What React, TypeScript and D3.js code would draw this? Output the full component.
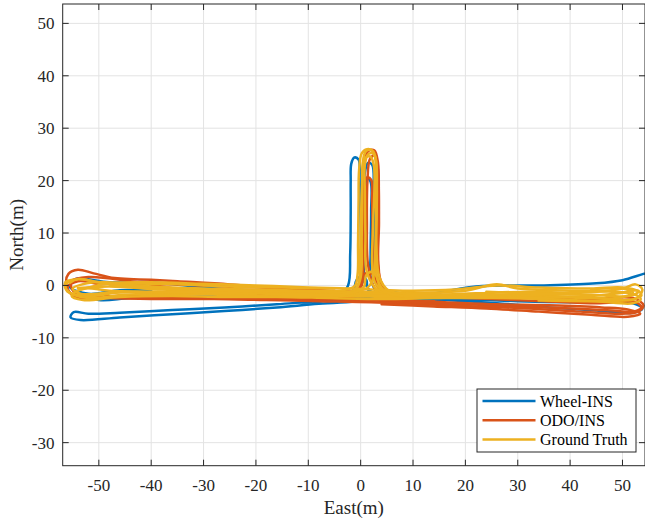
import React from "react";
import * as d3 from "d3";

type P = [number, number];

// ---------- axis ticks ----------
const xTicks = [-50, -40, -30, -20, -10, 0, 10, 20, 30, 40, 50];
const yTicks = [-30, -20, -10, 0, 10, 20, 30, 40, 50];
const xDomain: [number, number] = [-56.9, 54.3];
const yDomain: [number, number] = [-34.4, 53.7];

// ---------- Wheel-INS (blue) ----------
const wheelLap: P[] = [
  [2, -2.6], [-8, -3.0], [-16, -3.6], [-26, -4.2], [-36, -4.7], [-46, -5.2], [-52, -5.4],
  [-54.8, -5.1], [-55.4, -6.1], [-53.5, -6.6], [-46, -6.1], [-36, -5.5], [-26, -4.9],
  [-16, -4.2], [-8, -3.5], [0, -3.0], [10, -2.2], [22, -0.2], [35, 0.0], [45, 0.4],
  [50, 1.0], [54, 2.2], [57, 3.0],
];
const wheelMid: P[] = [
  [-40, -1.0], [-46, -0.9], [-52, -1.6], [-55.6, -0.2], [-54.5, 1.2], [-48, 0.6],
  [-40, 0.6], [-30, -0.4], [-20, -1.0], [-10, -1.4], [0, -1.8], [10, -2.2], [20, -2.6],
  [30, -3.0], [40, -3.2], [48, -3.2], [52, -3.4], [53.8, -4.4], [52, -5.2], [45, -4.8],
  [36, -4.2], [26, -3.4], [16, -2.8], [6, -2.4], [-4, -2.2], [-14, -2.0], [-24, -2.0],
  [-34, -2.2], [-44, -2.4], [-50, -2.8], [-54, -1.4],
];
const wheelV1: P[] = [
  [-12, -2.2], [-4, -1.8], [-2.4, 0], [-2.0, 6], [-1.9, 14], [-1.9, 20], [-1.8, 23.2],
  [-1.2, 24.4], [-0.4, 24.0], [-0.2, 20], [0.0, 12], [0.2, 5], [0.8, 0.5], [2.6, -1.6], [10, -2.4],
];
const wheelV2: P[] = [
  [-6, -1.6], [-0.6, -1.0], [0.4, 1], [0.6, 8], [0.7, 16], [0.8, 21.5], [1.4, 23.4],
  [2.2, 23.0], [2.5, 18], [2.6, 10], [2.4, 3], [3.2, 0], [8, -1.6],
];
const wheelV3: P[] = [
  [-4, -2.0], [-0.2, -0.5], [0.6, 4], [0.7, 12], [0.8, 19], [1.3, 20.4], [1.9, 19.8],
  [2.0, 14], [1.9, 6], [2.0, 1], [3.6, -1.8], [10, -2.6],
];
const wheelArc: P[] = [
  [-8, -2.6], [-1.6, -1.2], [-0.8, 1.0], [0.2, 1.8], [1.1, 1.0], [1.4, -0.8], [4, -2.4], [12, -2.8],
];

// ---------- ODO/INS (orange) ----------
const odoLap1: P[] = [
  [-40, 1.1], [-47, 1.4], [-51, 2.3], [-54, 3.0], [-55.8, 2.2], [-56.2, 0.2], [-55, -1.8],
  [-50, -2.3], [-40, -2.4], [-30, -2.4], [-20, -2.4], [-10, -2.6], [0, -2.8], [10, -3.2],
  [20, -3.6], [30, -4.0], [40, -4.4], [48, -4.8], [52, -5.0], [53.6, -4.2], [52.5, -3.2],
  [45, -3.4], [35, -3.0], [25, -2.6], [15, -2.2], [5, -1.8], [-5, -1.2], [-15, -0.6],
  [-25, 0.2], [-35, 0.8], [-40, 1.1],
];
const odoLap2: P[] = [
  [-50, 0.2], [-54, 0.8], [-56, -0.4], [-54.5, -2.2], [-48, -2.4], [-38, -2.6], [-28, -2.6],
  [-18, -2.8], [-8, -3.0], [2, -3.2], [12, -3.6], [22, -4.0], [32, -4.4], [42, -5.0],
  [50, -5.4], [53, -5.0], [54, -3.8], [52, -2.4], [44, -2.6], [34, -2.2], [24, -2.0],
  [14, -1.8], [4, -1.4], [-6, -1.0], [-16, -0.5], [-26, -0.2], [-36, 0.2], [-46, 0.4], [-50, 0.2],
];
const odoLap3: P[] = [
  [-30, -1.6], [-40, -1.8], [-50, -2.0], [-54.8, -1.2], [-55.2, 0.8], [-52, 1.6],
  [-44, 0.8], [-34, -0.8], [-24, -1.6], [-14, -2.0], [-4, -2.4], [6, -2.8], [16, -3.2],
  [26, -3.6], [36, -3.8], [46, -4.2], [51, -4.6], [53.4, -5.4], [51, -6.0], [44, -5.6],
  [34, -5.0], [24, -4.4], [14, -4.0], [4, -3.6],
];
const odoV1: P[] = [
  [-15, -2.0], [-3, -2.2], [-0.6, -0.6], [0.1, 2], [0.3, 10], [0.5, 18], [0.7, 23],
  [1.4, 25.6], [2.6, 25.8], [3.3, 23.5], [3.4, 14], [3.2, 5], [3.8, 1], [6, -2.4], [18, -3.4],
];
const odoV2: P[] = [
  [-10, -2.6], [-1.2, -2.0], [0.2, 0], [0.5, 6], [0.6, 14], [0.6, 19.4], [1.2, 20.6],
  [2.0, 20.2], [2.2, 16], [2.3, 8], [2.4, 3], [3.4, -0.5], [8, -2.6], [16, -3.2],
];
const odoV3: P[] = [
  [14, -3.0], [5, -2.6], [2.6, -0.4], [1.4, 4], [1.2, 12], [1.3, 20], [1.8, 24.2],
  [2.7, 24.8], [3.3, 22], [3.5, 12], [3.4, 4], [4.6, -1.6], [12, -3.2],
];
const odoArc: P[] = [
  [10, -3.0], [4.0, -1.4], [2.8, 1.6], [1.6, 2.5], [0.6, 2.0], [0.0, 0], [-4, -2.2], [-12, -2.6],
];

// ---------- Ground Truth (yellow) ----------
const gtLap1: P[] = [
  [-55.5, 0.5], [-54, 1.2], [-50, 0.6], [-40, -0.2], [-30, -0.6], [-20, -0.8], [-10, -1.0],
  [0, -1.2], [10, -1.4], [20, -1.0], [26, 0.2], [30, -0.6], [40, -1.0], [48, -1.2],
  [52, -1.6], [53.5, -2.6], [52, -3.4], [45, -3.0], [35, -2.6], [25, -2.4], [15, -2.4],
  [5, -2.2], [-5, -2.0], [-15, -2.0], [-25, -1.8], [-35, -1.6], [-45, -1.8], [-52, -2.4],
  [-55.5, -1.4], [-56.4, 0], [-55.5, 0.8],
];
const gtLap2: P[] = [
  [-46, -1.2], [-52, -2.0], [-56, -1.2], [-56.4, 0.6], [-54, 1.2], [-50, 0.6], [-44, -0.2],
  [-34, -0.6], [-24, -1.0], [-14, -1.2], [-4, -1.4], [6, -1.8], [16, -1.8], [26, -2.0],
  [36, -2.0], [46, -2.4], [52.5, -2.6], [53.8, -0.8], [52.5, 0.2], [50, -0.6], [42, -1.4],
  [32, -1.2], [22, -1.5], [12, -1.8], [2, -1.6], [-8, -1.6], [-18, -1.4], [-28, -1.2],
  [-38, -0.8], [-48, -0.2], [-54, -0.5],
];
const gtLap3: P[] = [
  [-20, -1.6], [-30, -1.4], [-40, -1.2], [-48, -1.0], [-53, -0.6], [-55.2, -2.0],
  [-53, -2.8], [-46, -2.2], [-36, -2.0], [-26, -2.2], [-16, -2.2], [-6, -2.4], [4, -2.6],
  [14, -2.4], [24, -2.2], [34, -2.4], [44, -2.0], [50, -1.4], [53, -1.0], [53.6, -2.0],
  [51, -2.8], [44, -3.0], [34, -2.9],
];
const gtLap4: P[] = [
  [-5, -0.6], [-15, -0.4], [-25, -0.2], [-35, 0.2], [-45, 0.4], [-51, 0.6], [-55, -0.6],
  [-53.5, -1.6], [-48, -1.4], [-38, -1.2], [-28, -1.4], [-18, -1.6], [-8, -1.8], [2, -2.0],
  [12, -2.0], [22, -1.8], [32, -1.8], [42, -2.4], [49, -2.4], [52, -1.4], [50, -0.6],
  [44, -0.8],
];
const gtLap5: P[] = [
  [-54, -1.0], [-48, 0.4], [-40, 0.6], [-30, 0.3], [-20, 0.0], [-10, -0.4], [-2, -0.6],
  [8, -1.0], [18, -0.8], [26, 0.0], [34, -0.4], [44, -0.6], [50, -0.4], [53, -1.2],
  [51.5, -2.0], [44, -1.8], [34, -1.6], [24, -1.2],
];
const gtV1: P[] = [
  [-12, -1.2], [-4, -1.0], [-1.2, -0.2], [-0.6, 2.0], [-0.5, 8], [-0.4, 16], [-0.3, 22],
  [0.2, 25.2], [1.2, 26.0], [2.4, 25.6], [3.0, 22], [3.0, 14], [2.9, 6], [3.2, 1.2],
  [4.6, -1.0], [10, -1.6], [18, -1.8],
];
const gtV2: P[] = [
  [-15, -1.6], [-5, -1.5], [-1, -0.8], [0.0, 1.5], [0.2, 9], [0.3, 18], [0.4, 23.5],
  [1.0, 25.6], [2.0, 25.8], [2.8, 24.6], [3.0, 20], [2.9, 10], [2.6, 3], [2.2, 0.8],
  [1.2, -0.5], [-5, -1.8], [-15, -2.0],
];
const gtV3: P[] = [
  [20, -2.2], [8, -2.0], [3.2, -0.8], [1.2, 2.5], [0.9, 10], [0.8, 18], [0.8, 23],
  [1.4, 25.0], [2.3, 25.2], [2.9, 24], [3.1, 18], [3.0, 8], [3.6, 1.5], [5.4, -1.0], [15, -1.6],
];
const gtV4: P[] = [
  [-8, -1.8], [-1.6, -1.4], [-0.4, 0.5], [-0.1, 6], [0.1, 14], [0.3, 20], [0.8, 24.2],
  [1.8, 24.6], [2.5, 23], [2.4, 12], [2.2, 4], [2.8, 0.4], [5.4, -1.6], [14, -2.0],
];
const gtArc: P[] = [
  [8, -2.0], [4.0, -0.8], [3.0, 1.8], [2.0, 2.6], [1.0, 1.8], [0.6, -0.3], [-2.4, -1.6], [-10, -1.8],
];

const seriesNames = ["Wheel-INS", "ODO/INS", "Ground Truth"];
const seriesColors = ["#0072BD", "#D95319", "#EDB120"];
const seriesTracks: P[][][] = [
  [wheelLap, wheelMid, wheelV1, wheelV2, wheelV3, wheelArc],
  [odoLap1, odoLap2, odoLap3, odoV1, odoV2, odoV3, odoArc],
  [gtLap1, gtLap2, gtLap3, gtLap4, gtLap5, gtV1, gtV2, gtV3, gtV4, gtArc],
];

const W = 645;
const H = 525;
const M = { left: 62.7, top: 4, right: 645, bottom: 465.7 };
const FONT = "'Liberation Serif', 'Times New Roman', serif";
const AX = "#262626";

export default function App() {
  const x = d3.scaleLinear().domain(xDomain).range([M.left, M.right]);
  const y = d3.scaleLinear().domain(yDomain).range([M.bottom, M.top]);
  const line = d3
    .line<P>()
    .x((d) => x(d[0]))
    .y((d) => y(d[1]))
    .curve(d3.curveCatmullRom.alpha(0.5));

  const lg = { x: 477, y: 389, w: 159, h: 63 };
  const txt = { fontFamily: FONT };

  return (
    <svg
      width={W}
      height={H}
      style={{ position: "absolute", left: 0, top: 0, background: "#fff" }}
    >
      <defs>
        <clipPath id="plotClip">
          <rect x={M.left} y={M.top} width={M.right - M.left} height={M.bottom - M.top} />
        </clipPath>
      </defs>
      <rect x={M.left} y={M.top} width={M.right - M.left} height={M.bottom - M.top} fill="#fff" />
      {/* grid */}
      <g stroke="#e3e3e3" strokeWidth={1}>
        {xTicks.map((t) => (
          <line key={"gx" + t} x1={x(t)} x2={x(t)} y1={M.top} y2={M.bottom} />
        ))}
        {yTicks.map((t) => (
          <line key={"gy" + t} x1={M.left} x2={M.right} y1={y(t)} y2={y(t)} />
        ))}
      </g>
      {/* data */}
      <g clipPath="url(#plotClip)" fill="none" strokeWidth={2.5} strokeLinejoin="round" strokeLinecap="round">
        {seriesTracks.map((tracks, si) =>
          tracks.map((tr, ti) => (
            <path key={si + "-" + ti} d={line(tr) || ""} stroke={seriesColors[si]} />
          ))
        )}
      </g>
      {/* axes box */}
      <rect
        x={M.left}
        y={M.top}
        width={M.right - M.left}
        height={M.bottom - M.top}
        fill="none"
        stroke={AX}
        strokeWidth={1}
      />
      {/* ticks */}
      <g stroke={AX} strokeWidth={1}>
        {xTicks.map((t) => (
          <g key={"tx" + t}>
            <line x1={x(t)} x2={x(t)} y1={M.bottom} y2={M.bottom - 6} />
            <line x1={x(t)} x2={x(t)} y1={M.top} y2={M.top + 6} />
          </g>
        ))}
        {yTicks.map((t) => (
          <g key={"ty" + t}>
            <line x1={M.left} x2={M.left + 6} y1={y(t)} y2={y(t)} />
            <line x1={M.right} x2={M.right - 6} y1={y(t)} y2={y(t)} />
          </g>
        ))}
      </g>
      {/* tick labels */}
      <g fill={AX} fontSize={17} style={txt}>
        {xTicks.map((t) => (
          <text key={"lx" + t} x={x(t)} y={491} textAnchor="middle" style={txt}>
            {t}
          </text>
        ))}
        {yTicks.map((t) => (
          <text key={"ly" + t} x={54.5} y={y(t) + 6} textAnchor="end" style={txt}>
            {t}
          </text>
        ))}
      </g>
      {/* axis labels */}
      <text x={(M.left + M.right) / 2} y={514} textAnchor="middle" fontSize={19} fill={AX} style={txt}>
        East(m)
      </text>
      <text
        transform={`translate(23, ${(M.top + M.bottom) / 2}) rotate(-90)`}
        textAnchor="middle"
        fontSize={19}
        fill={AX}
        style={txt}
      >
        North(m)
      </text>
      {/* legend */}
      <rect x={lg.x} y={lg.y} width={lg.w} height={lg.h} fill="#fff" stroke={AX} strokeWidth={1} />
      {seriesNames.map((n, i) => (
        <g key={n}>
          <line
            x1={482.5}
            x2={535.5}
            y1={401 + i * 19.3}
            y2={401 + i * 19.3}
            stroke={seriesColors[i]}
            strokeWidth={2.5}
          />
          <text x={540} y={401 + i * 19.3 + 5.5} fontSize={16} fill="#000" style={txt}>
            {n}
          </text>
        </g>
      ))}
    </svg>
  );
}
